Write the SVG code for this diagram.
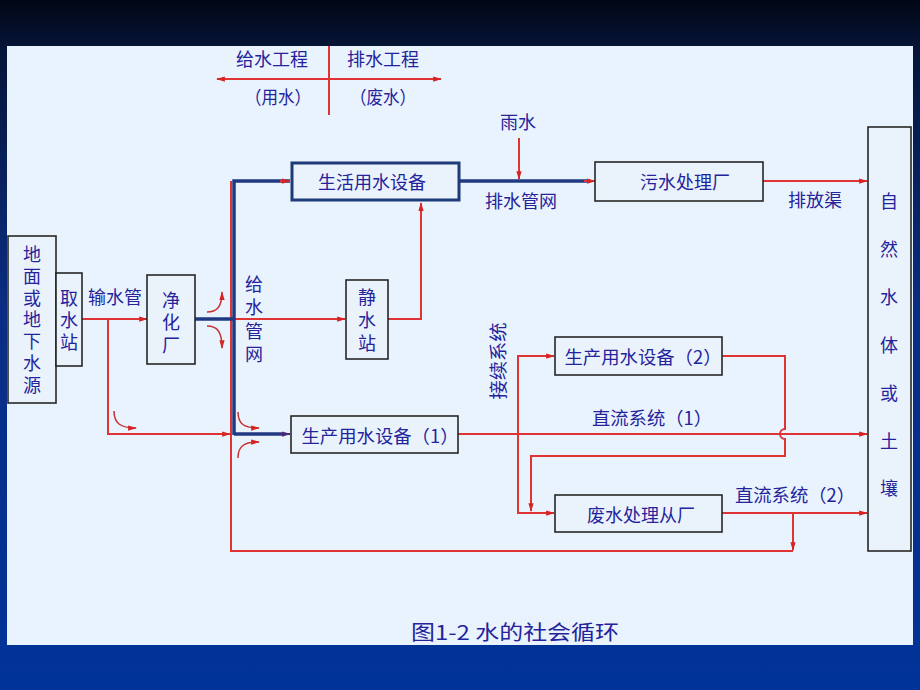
<svg xmlns="http://www.w3.org/2000/svg" width="920" height="690" viewBox="0 0 920 690">
<defs>
<linearGradient id="bg" x1="0" y1="0" x2="0" y2="1">
<stop offset="0" stop-color="#010614"/>
<stop offset="0.07" stop-color="#061538"/>
<stop offset="0.45" stop-color="#0a2d84"/>
<stop offset="1" stop-color="#003399"/>
</linearGradient>
<marker id="ar" viewBox="0 0 10 8" refX="9" refY="4" markerWidth="9" markerHeight="7" markerUnits="userSpaceOnUse" orient="auto">
<path d="M0,1 L10,4 L0,7 z" fill="#d42424"/>
</marker>
<marker id="ab" viewBox="0 0 10 8" refX="9" refY="4" markerWidth="9" markerHeight="7" markerUnits="userSpaceOnUse" orient="auto">
<path d="M0,1 L10,4 L0,7 z" fill="#4a2a78"/>
</marker>
<style>
.box{fill:#eaf3fc;stroke:#262626;stroke-width:1.6}
.bbox{fill:#eaf3fc;stroke:#1e3a78;stroke-width:3}
.t{font-family:"Noto Sans CJK SC","Noto Sans",sans-serif;font-size:18px;fill:#25239c;text-anchor:middle;dominant-baseline:central}
.r{stroke:#e03434;stroke-width:2;fill:none}
.rc{stroke:#c83030;stroke-width:1.5;fill:none}
.b{stroke:#1f3a80;stroke-width:3.5;fill:none}
</style>
</defs>
<rect x="0" y="0" width="920" height="690" fill="url(#bg)"/>
<rect x="7" y="46" width="906" height="599" fill="#e9f3fd"/>

<g id="header">
<line class="r" x1="329" y1="46" x2="329" y2="115"/>
<line class="r" x1="329" y1="79" x2="217" y2="79" marker-end="url(#ar)"/>
<line class="r" x1="329" y1="79" x2="441" y2="79" marker-end="url(#ar)"/>
<text class="t" x="272" y="58">给水工程</text>
<text class="t" x="383" y="58">排水工程</text>
<text class="t" x="278" y="96" textLength="66" lengthAdjust="spacingAndGlyphs">（用水）</text>
<text class="t" x="383" y="96" textLength="66" lengthAdjust="spacingAndGlyphs">（废水）</text>
</g>

<g id="connectors">
<line class="r" x1="82" y1="319" x2="147" y2="319" marker-end="url(#ar)"/>
<path class="r" d="M108,319 V434 H230" marker-end="url(#ar)"/>
<path class="rc" d="M114,411 C114,423 120,428 136,428" marker-end="url(#ar)"/>
<path class="r" d="M231,181 V551 H793"/>
<line class="r" x1="233" y1="319" x2="345" y2="319" marker-end="url(#ar)"/>
<line class="b" x1="195" y1="319" x2="234" y2="319"/>
<path class="b" d="M234,435 V181 H290"/>
<line class="r" x1="280" y1="181" x2="290" y2="181" marker-end="url(#ar)"/>
<line class="b" x1="234" y1="434" x2="284" y2="434"/>
<line stroke="#4a2a78" stroke-width="2" x1="280" y1="434" x2="290" y2="434" marker-end="url(#ab)"/>
<path class="rc" d="M207,312 C216,312 222,308 222,292" marker-end="url(#ar)"/>
<path class="rc" d="M207,326 C216,326 222,330 222,348" marker-end="url(#ar)"/>
<path class="rc" d="M238,412 C238,424 244,428 259,428" marker-end="url(#ar)"/>
<path class="rc" d="M238,458 C238,446 244,442 259,442" marker-end="url(#ar)"/>
<path class="r" d="M388,319 H421 V203" marker-end="url(#ar)"/>
<line class="b" x1="460" y1="181" x2="590" y2="181"/>
<line class="r" x1="584" y1="181" x2="595" y2="181" marker-end="url(#ar)"/>
<line class="r" x1="519" y1="138" x2="519" y2="179" marker-end="url(#ar)"/>
<line class="r" x1="763" y1="181" x2="867" y2="181" marker-end="url(#ar)"/>
<line class="r" x1="458" y1="434" x2="867" y2="434" marker-end="url(#ar)"/>
<path class="r" d="M554,356 H518 V513 H554" marker-end="url(#ar)"/>
<line class="r" x1="540" y1="356" x2="554" y2="356" marker-end="url(#ar)"/>
<path class="r" d="M722,356 H785 V429 A5,5 0 0 0 785,439 V456 H531 V511" marker-end="url(#ar)"/>
<line class="r" x1="722" y1="513" x2="867" y2="513" marker-end="url(#ar)"/>
<line class="r" x1="793" y1="513" x2="793" y2="550" marker-end="url(#ar)"/>
<text class="t" x="115" y="296">输水管</text>
<text class="t" x="254"><tspan x="254" y="283">给</tspan><tspan x="254" y="306">水</tspan><tspan x="254" y="330">管</tspan><tspan x="254" y="353">网</tspan></text>
<text class="t" x="518" y="121">雨水</text>
<text class="t" x="521" y="200">排水管网</text>
<text class="t" x="815" y="199">排放渠</text>
<text class="t" x="652" y="417" textLength="120" lengthAdjust="spacingAndGlyphs">直流系统（1）</text>
<text class="t" x="795" y="494" textLength="120" lengthAdjust="spacingAndGlyphs">直流系统（2）</text>
<text class="t" transform="translate(497,361) rotate(-90)" x="0" y="0" textLength="77" lengthAdjust="spacingAndGlyphs">接续系统</text>
</g>

<g id="source">
<rect class="box" x="8" y="236" width="48" height="167"/>
<text class="t"><tspan x="32" y="253">地</tspan><tspan x="32" y="275">面</tspan><tspan x="32" y="297">或</tspan><tspan x="32" y="318">地</tspan><tspan x="32" y="340">下</tspan><tspan x="32" y="362">水</tspan><tspan x="32" y="384">源</tspan></text>
</g>
<g id="intake">
<rect class="box" x="56" y="273" width="26" height="93"/>
<text class="t"><tspan x="69" y="297">取</tspan><tspan x="69" y="319">水</tspan><tspan x="69" y="341">站</tspan></text>
</g>
<g id="purify">
<rect class="box" x="147" y="275" width="48" height="89"/>
<text class="t"><tspan x="171" y="299">净</tspan><tspan x="171" y="321">化</tspan><tspan x="171" y="344">厂</tspan></text>
</g>
<g id="static-station">
<rect class="box" x="346" y="280" width="42" height="79"/>
<text class="t"><tspan x="367" y="296">静</tspan><tspan x="367" y="319">水</tspan><tspan x="367" y="342">站</tspan></text>
</g>
<g id="living">
<rect class="bbox" x="292" y="163" width="167" height="37"/>
<text class="t" x="372" y="181">生活用水设备</text>
</g>
<g id="sewage-plant">
<rect class="box" x="595" y="162" width="168" height="39"/>
<text class="t" x="685" y="181">污水处理厂</text>
</g>
<g id="nature">
<rect class="box" x="868" y="127" width="43" height="424"/>
<text class="t"><tspan x="889" y="200">自</tspan><tspan x="889" y="248">然</tspan><tspan x="889" y="296">水</tspan><tspan x="889" y="344">体</tspan><tspan x="889" y="392">或</tspan><tspan x="889" y="440">土</tspan><tspan x="889" y="487">壤</tspan></text>
</g>
<g id="production2">
<rect class="box" x="555" y="337" width="167" height="38"/>
<text class="t" x="643" y="356" textLength="157" lengthAdjust="spacingAndGlyphs">生产用水设备（2）</text>
</g>
<g id="production1">
<rect class="box" x="291" y="416" width="167" height="37"/>
<text class="t" x="380" y="435" textLength="157" lengthAdjust="spacingAndGlyphs">生产用水设备（1）</text>
</g>
<g id="wastewater-plant">
<rect class="box" x="555" y="495" width="167" height="37"/>
<text class="t" x="641" y="514">废水处理从厂</text>
</g>
<g id="caption">
<text class="t" x="515" y="631" style="font-size:20px" textLength="208" lengthAdjust="spacingAndGlyphs">图1-2 水的社会循环</text>
</g>
</svg>
